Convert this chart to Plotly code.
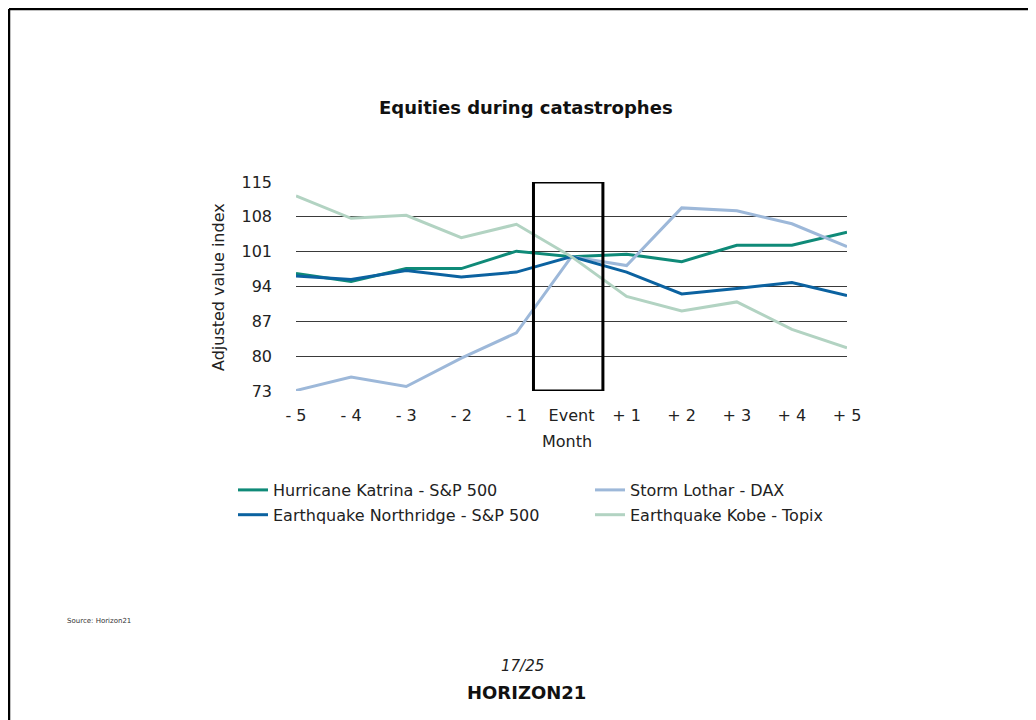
import plotly.graph_objects as go

months = ["- 5", "- 4", "- 3", "- 2", "- 1", "Event", "+ 1", "+ 2", "+ 3", "+ 4", "+ 5"]
katrina = [96.6, 95.0, 97.6, 97.6, 101.1, 100.0, 100.5, 99.0, 102.3, 102.3, 104.9]
lothar = [73.1, 75.8, 73.9, 79.6, 84.7, 100.0, 98.2, 109.8, 109.2, 106.6, 102.0]
northridge = [96.1, 95.4, 97.2, 95.9, 96.9, 100.0, 96.9, 92.5, 93.6, 94.8, 92.2]
kobe = [112.2, 107.7, 108.3, 103.8, 106.5, 100.0, 92.0, 89.1, 90.9, 85.4, 81.7]
y_ticks = [73, 80, 87, 94, 101, 108, 115]

x_idx = list(range(len(months)))
FONT = "DejaVu Sans"
OFF = 8  # page body margin
W, H = 1028, 712
PL, PR, PT, PB = 296 - OFF, 847 - OFF, 182 - OFF, 391 - OFF
PW, PH = PR - PL, PB - PT


def px_x(p):
    return (p - OFF - PL) / PW


def px_y(p):
    return (PB - (p - OFF)) / PH


fig = go.Figure()
series = [
    ("Hurricane Katrina - S&P 500", katrina, "#0f8a78", "legend"),
    ("Storm Lothar - DAX", lothar, "#9db8d9", "legend2"),
    ("Earthquake Northridge - S&P 500", northridge, "#0b62a0", "legend"),
    ("Earthquake Kobe - Topix", kobe, "#b2d3c2", "legend2"),
]
for name, vals, col, lg in series:
    fig.add_trace(go.Scatter(
        x=x_idx, y=vals, mode="lines", name=name,
        line=dict(color=col, width=3), legend=lg, legendgroup=name,
    ))

# event window box
fig.add_shape(type="rect", xref="x", yref="y", x0=4.31, x1=5.57, y0=73, y1=115,
              line=dict(color="black", width=3), fillcolor="rgba(0,0,0,0)", layer="above")

# page frame (left and top edges)
fx = (1 - PL) / PW
fy = (PB - 1) / PH
fig.add_shape(type="line", xref="paper", yref="paper",
              x0=fx, x1=fx, y0=fy, y1=(PB - H - 10) / PH,
              line=dict(color="black", width=2.5))
fig.add_shape(type="line", xref="paper", yref="paper",
              x0=fx, x1=(W + 10 - PL) / PW, y0=fy, y1=fy,
              line=dict(color="black", width=2.5))

fig.update_layout(
    width=W, height=H, autosize=False,
    margin=dict(l=PL, r=W - PR, t=PT, b=H - PB),
    paper_bgcolor="white", plot_bgcolor="white",
    font=dict(family=FONT, size=16, color="#222"),
    showlegend=True,
    legend=dict(x=px_x(233), y=px_y(473), xanchor="left", yanchor="top",
                font=dict(size=16, family=FONT, color="#222"), tracegroupgap=1,
                bgcolor="rgba(0,0,0,0)", itemwidth=30),
    legend2=dict(x=px_x(590), y=px_y(473), xanchor="left", yanchor="top",
                 font=dict(size=16, family=FONT, color="#222"), tracegroupgap=1,
                 bgcolor="rgba(0,0,0,0)", itemwidth=30),
    xaxis=dict(range=[0, 10], tickmode="array", tickvals=x_idx, ticktext=months,
               showgrid=False, zeroline=False, showline=False, ticks="",
               ticklabelstandoff=13, tickfont=dict(size=16, family=FONT, color="#222"),
               fixedrange=True),
    yaxis=dict(range=[73, 115], tickmode="array", tickvals=y_ticks,
               showgrid=True, gridcolor="#3a3a3a", gridwidth=1, zeroline=False,
               showline=False, ticks="", ticklabelstandoff=23,
               tickfont=dict(size=16, family=FONT, color="#222"), fixedrange=True),
)

annotations = [
    dict(text="<b>Equities during catastrophes</b>", x=px_x(526), y=px_y(108),
         font=dict(size=18, family=FONT, color="#111")),
    dict(text="Month", x=px_x(567), y=px_y(441), font=dict(size=16, family=FONT, color="#222")),
    dict(text="Adjusted value index", x=px_x(218), y=px_y(287), textangle=-90,
         font=dict(size=16, family=FONT, color="#222")),
    dict(text="Source: Horizon21", x=px_x(99), y=px_y(621),
         font=dict(size=7, family=FONT, color="#333")),
    dict(text="<i>17/25</i>", x=px_x(522), y=px_y(666),
         font=dict(size=15, family=FONT, color="#222")),
    dict(text="<b>HORIZON21</b>", x=px_x(526), y=px_y(692),
         font=dict(size=18, family=FONT, color="#111")),
]
for a in annotations:
    a.update(xref="paper", yref="paper", showarrow=False, xanchor="center", yanchor="middle")
fig.update_layout(annotations=annotations)

fig.write_html("out.html")
